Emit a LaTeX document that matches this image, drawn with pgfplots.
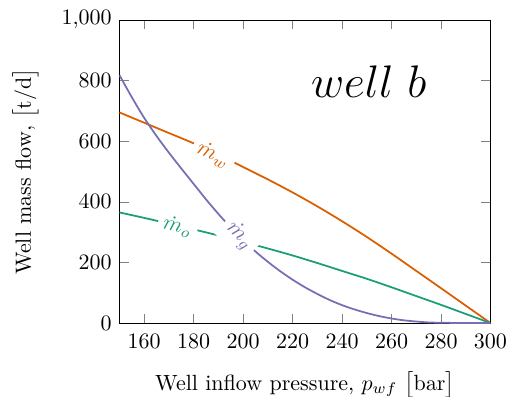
\documentclass[border=0pt]{standalone}
\usepackage{pgfplots}
\pgfplotsset{compat=1.18}
\definecolor{cw}{HTML}{D95F02}
\definecolor{co}{HTML}{1B9E77}
\definecolor{cg}{HTML}{7570B3}
\tikzset{lblnode/.style={sloped, fill=white, inner sep=2.5pt, pos=0.5}}
\pgfplotsset{lbl/.style={draw=none, forget plot}}
\begin{document}
\begin{tikzpicture}
\begin{axis}[
  name=ax,
  scale only axis,
  width=168.6pt, height=137.7pt,
  xmin=150, xmax=300, ymin=0, ymax=1000,
  xtick={160,180,...,300},
  ytick={0,200,...,1000},
  xlabel={Well inflow pressure, $p_{wf}$\ $\big[\mathrm{bar}\big]$},
  ylabel={Well mass flow, $\big[\mathrm{t/d}\big]$},
  xticklabel style={yshift=-1.5pt},
  xlabel style={yshift=-7.2pt, inner sep=0pt},
  ylabel shift=3.6pt,
  every axis plot/.append style={thick},
]
\addplot[cw, smooth] coordinates {
(150,695) (160,661) (170,627) (180,593) (190,555) (200,515) (210,474) (220,431)
(230,385) (240,336) (250,284) (260,229) (270,172) (280,115) (290,57.5) (300,0)};
\addplot[co, smooth] coordinates {
(150,365) (160,347) (170,328) (180,309) (190,289) (200,268) (210,246) (220,223)
(230,198) (240,172) (250,146) (260,118) (270,89) (280,60) (290,30) (300,0)};
\addplot[cg, smooth] coordinates {
(150,818) (155,745) (160,677) (165,617) (170,562) (175,510) (180,459) (185,408)
(190,360) (195,315) (200,274) (205,236) (210,202) (215,171) (220,143) (225,118)
(230,96) (235,76) (240,59) (245,45) (250,33) (255,23) (260,15) (265,9) (270,5)
(275,2) (280,1) (290,0) (300,0)};
% label carriers along the curves
\addplot[lbl] coordinates {(183,574) (193,536)} node[lblnode, text=cw] {$\dot m_w$};
\addplot[lbl] coordinates {(168,329) (179,308)} node[lblnode, text=co] {$\dot m_o$};
\addplot[lbl] coordinates {(193,333) (204,243)} node[lblnode, text=cg] {$\dot m_g$};
\node at (rel axis cs:0.672,0.797) {\huge $well\ b$};
\end{axis}
\pgfresetboundingbox
\path[use as bounding box] ([xshift=-54.3pt,yshift=-33.2pt]ax.south west)
  rectangle ([xshift=7.5pt,yshift=9.1pt]ax.north east);
\end{tikzpicture}
\end{document}
